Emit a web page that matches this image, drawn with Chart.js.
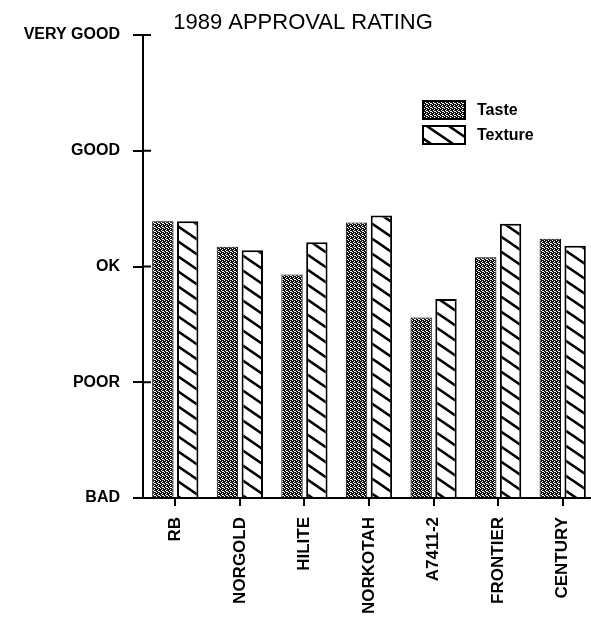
<!DOCTYPE html>
<html><head><meta charset="utf-8">
<script src="https://cdn.jsdelivr.net/npm/chart.js@4"></script>
<style>
html,body{margin:0;padding:0;background:#fff;overflow:hidden}
#wrap{width:606px;height:619px}
canvas{background:#fff}
</style></head><body>
<div id="wrap"><canvas id="c" width="606" height="619"></canvas></div>
<script>
const categories = ['RB', 'NORGOLD', 'HILITE', 'NORKOTAH', 'A7411-2', 'FRONTIER', 'CENTURY'];
const tasteValues = [2.39, 2.17, 1.93, 2.38, 1.56, 2.08, 2.24];
const textureValues = [2.39, 2.14, 2.21, 2.44, 1.72, 2.37, 2.18];
const ratingLabels = ['BAD', 'POOR', 'OK', 'GOOD', 'VERY GOOD'];
const seriesNames = ['Taste', 'Texture'];
const chartTitle = '1989 APPROVAL RATING';

const FONT = "'Liberation Sans', Arial, sans-serif";
const canvas = document.getElementById('c');
const ctx = canvas.getContext('2d');

function makeTastePattern() {
  const c = document.createElement('canvas');
  c.width = 4; c.height = 4;
  const g = c.getContext('2d');
  g.fillStyle = '#111';
  g.fillRect(0, 0, 4, 4);
  g.fillStyle = '#fff';
  [[0, 0], [2, 1], [1, 2], [3, 3], [2, 3]].forEach(([x, y]) => g.fillRect(x, y, 1, 1));
  return ctx.createPattern(c, 'repeat');
}
function makeTexturePattern() {
  const w = 22, h = 15;
  const c = document.createElement('canvas');
  c.width = w; c.height = h;
  const g = c.getContext('2d');
  g.fillStyle = '#fff';
  g.fillRect(0, 0, w, h);
  g.strokeStyle = '#000';
  g.lineWidth = 2.6;
  for (let k = -1; k <= 1; k++) {
    g.beginPath();
    g.moveTo(-w, -h + k * h);
    g.lineTo(2 * w, 2 * h + k * h);
    g.stroke();
  }
  return ctx.createPattern(c, 'repeat');
}
const tastePattern = makeTastePattern();
const texturePattern = makeTexturePattern();

const insideLegend = {
  id: 'insideLegend',
  afterDraw(chart) {
    const a = chart.chartArea;
    const g = chart.ctx;
    const bx = a.left + 280, bw = 42, bh = 18;
    const rows = [a.top + 66, a.top + 91];
    chart.data.datasets.forEach((ds, i) => {
      const y = rows[i];
      g.save();
      g.fillStyle = ds.backgroundColor;
      g.fillRect(bx, y, bw, bh);
      g.strokeStyle = '#000';
      g.lineWidth = 2;
      g.strokeRect(bx, y, bw, bh);
      g.fillStyle = '#000';
      g.font = 'bold 16px ' + FONT;
      g.textBaseline = 'middle';
      g.textAlign = 'left';
      g.fillText(ds.label, bx + 54, y + bh / 2 + 1);
      g.restore();
    });
  }
};

const innerTicks = {
  id: 'innerTicks',
  afterDraw(chart) {
    const ys = chart.scales.y;
    const g = chart.ctx;
    const x0 = chart.chartArea.left;
    g.save();
    g.strokeStyle = '#000';
    g.lineWidth = 2;
    ys.ticks.forEach((t) => {
      if (t.value === ys.min) return;
      const y = ys.getPixelForValue(t.value);
      g.beginPath();
      g.moveTo(x0, y);
      g.lineTo(x0 + 8, y);
      g.stroke();
    });
    g.restore();
  }
};

new Chart(ctx, {
  type: 'bar',
  data: {
    labels: categories,
    datasets: [
      { label: seriesNames[0], data: tasteValues, backgroundColor: tastePattern,
        borderColor: '#000', borderWidth: 1, borderSkipped: 'bottom' },
      { label: seriesNames[1], data: textureValues, backgroundColor: texturePattern,
        borderColor: '#000', borderWidth: 2, borderSkipped: 'bottom' }
    ]
  },
  options: {
    responsive: false,
    animation: false,
    datasets: { bar: { categoryPercentage: 0.77, barPercentage: 0.86 } },
    layout: { padding: { left: 11, right: 11, top: 0, bottom: 0 } },
    plugins: {
      legend: { display: false },
      tooltip: { enabled: false },
      title: {
        display: true, text: chartTitle, color: '#000',
        font: { family: FONT, size: 22, weight: 'normal', lineHeight: 1 },
        padding: { top: 12, bottom: 1 }
      }
    },
    scales: {
      x: {
        grid: { display: true, drawOnChartArea: false, offset: false, tickLength: 8, color: '#000', lineWidth: 2 },
        border: { display: true, color: '#000', width: 2 },
        ticks: { color: '#000', font: { family: FONT, size: 17, weight: 'bold' },
                 minRotation: 90, maxRotation: 90, padding: 11, autoSkip: false },
        afterFit(s) { s.height = 121; }
      },
      y: {
        min: 0, max: 4,
        grid: { drawOnChartArea: false, tickLength: 10, color: '#000', lineWidth: 2 },
        border: { display: true, color: '#000', width: 2 },
        ticks: { stepSize: 1, color: '#000', font: { family: FONT, size: 16, weight: 'bold' },
                 padding: 13, callback: (v) => ratingLabels[v] },
        afterFit(s) { s.width = 132; }
      }
    }
  },
  plugins: [insideLegend, innerTicks]
});
</script>
</body></html>
